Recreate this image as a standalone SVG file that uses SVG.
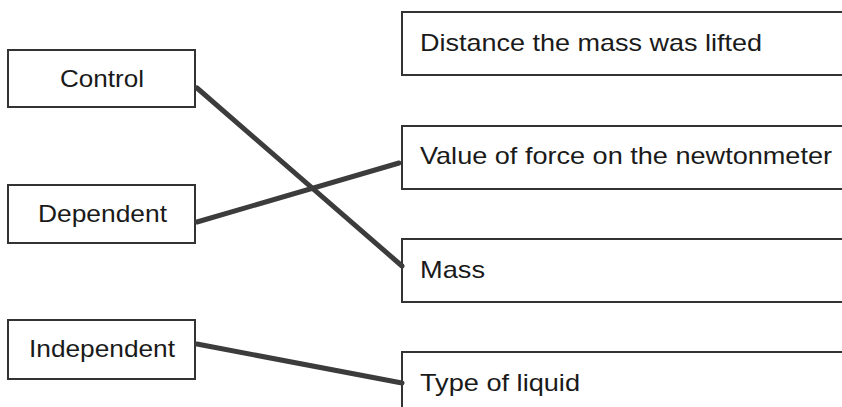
<svg xmlns="http://www.w3.org/2000/svg" width="842" height="407" viewBox="0 0 842 407">
<style>
.box{fill:#fff;stroke:#333;stroke-width:2}
.t{font-family:"Liberation Sans",Arial,sans-serif;font-size:24px;fill:#1a1a1a}
.c{stroke:#3c3c3c;stroke-width:5;stroke-linecap:round;fill:none}
</style>
<rect width="842" height="407" fill="#fff"/>
<g id="control"><rect class="box" x="8" y="50" width="187" height="57"/><text class="t" x="60" y="87" textLength="84" lengthAdjust="spacingAndGlyphs">Control</text></g>
<g id="dependent"><rect class="box" x="8" y="185" width="187" height="58"/><text class="t" x="38" y="222" textLength="129" lengthAdjust="spacingAndGlyphs">Dependent</text></g>
<g id="independent"><rect class="box" x="8" y="320" width="187" height="59"/><text class="t" x="29" y="357" textLength="146" lengthAdjust="spacingAndGlyphs">Independent</text></g>
<g id="distance"><rect class="box" x="402" y="12" width="450" height="63"/><text class="t" x="420" y="51" textLength="342" lengthAdjust="spacingAndGlyphs">Distance the mass was lifted</text></g>
<g id="value"><rect class="box" x="402" y="126" width="450" height="63"/><text class="t" x="420" y="164" textLength="412" lengthAdjust="spacingAndGlyphs">Value of force on the newtonmeter</text></g>
<g id="mass"><rect class="box" x="402" y="239" width="450" height="63"/><text class="t" x="420" y="278" textLength="65" lengthAdjust="spacingAndGlyphs">Mass</text></g>
<g id="liquid"><rect class="box" x="402" y="352" width="450" height="70"/><text class="t" x="420" y="391" textLength="160" lengthAdjust="spacingAndGlyphs">Type of liquid</text></g>
<g id="connectors">
<line class="c" x1="197" y1="88" x2="402" y2="266"/>
<line class="c" x1="197" y1="222" x2="399" y2="163"/>
<line class="c" x1="197" y1="344" x2="402" y2="383"/>
</g>
</svg>
